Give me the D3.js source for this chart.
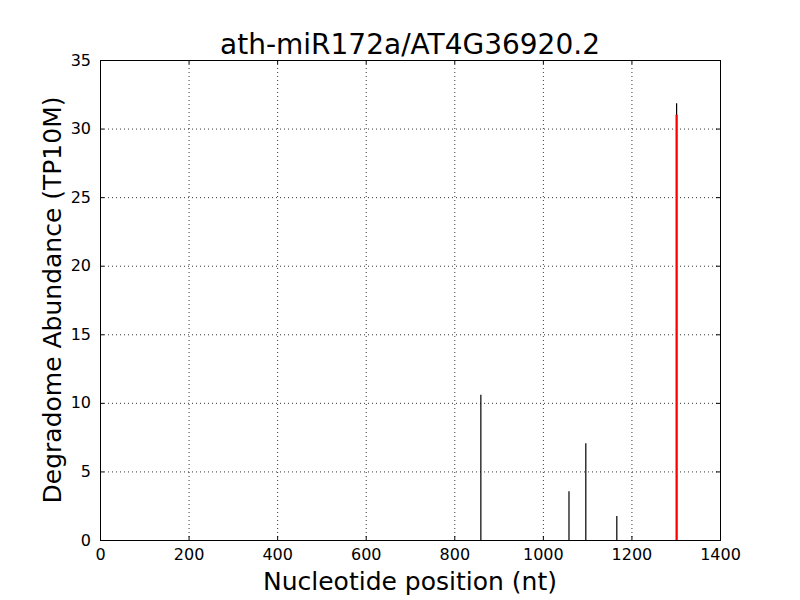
<!DOCTYPE html>
<html>
<head>
<meta charset="utf-8">
<script src="https://d3js.org/d3.v7.min.js"></script>
<style>
body{margin:0;background:#fff;}
text{font-family:"DejaVu Sans",sans-serif;}
</style>
</head>
<body>
<svg id="chart" width="800" height="600"></svg>
<script>
const positions = [860, 1059, 1097, 1167, 1302];
const abundances = [10.6, 3.55, 7.05, 1.75, 31.85];
const targetPosition = [1302];
const targetAbundance = [31.0];
const xTicks = [0, 200, 400, 600, 800, 1000, 1200, 1400];
const yTicks = [0, 5, 10, 15, 20, 25, 30, 35];
const title = "ath-miR172a/AT4G36920.2";
const xLabel = "Nucleotide position (nt)";
const yLabel = "Degradome Abundance (TP10M)";

const svg = d3.select("#chart");
const m = {left:100, top:60, right:80, bottom:60};
const W = 800 - m.left - m.right, H = 600 - m.top - m.bottom;
const g = svg.append("g").attr("transform", `translate(${m.left},${m.top})`);
const x = d3.scaleLinear().domain([0,1400]).range([0,W]);
const y = d3.scaleLinear().domain([0,35]).range([H,0]);

// grid
g.append("g").selectAll("line").data(xTicks.slice(1,-1)).join("line")
  .attr("x1", d=>x(d)+0.5).attr("x2", d=>x(d)+0.5).attr("y1",0).attr("y2",H)
  .attr("stroke","#000").attr("stroke-width",0.8).attr("stroke-dasharray","1,3");
g.append("g").selectAll("line").data(yTicks.slice(1,-1)).join("line")
  .attr("y1", d=>y(d)+0.5).attr("y2", d=>y(d)+0.5).attr("x1",0).attr("x2",W)
  .attr("stroke","#000").attr("stroke-width",0.8).attr("stroke-dasharray","1,3");

// bars
g.append("g").selectAll("line").data(positions.map((p,i)=>[p,abundances[i]])).join("line")
  .attr("x1", d=>x(d[0])).attr("x2", d=>x(d[0])).attr("y1", y(0)).attr("y2", d=>y(d[1]))
  .attr("stroke","#000").attr("stroke-width",1.2);
g.append("g").selectAll("line").data(targetPosition.map((p,i)=>[p,targetAbundance[i]])).join("line")
  .attr("x1", d=>x(d[0])).attr("x2", d=>x(d[0])).attr("y1", y(0)).attr("y2", d=>y(d[1]))
  .attr("stroke","#ff0000").attr("stroke-width",2.2);

// axes with inward ticks
const fs = 16;
const xb = g.append("g").attr("transform",`translate(0,${H})`)
  .call(d3.axisBottom(x).tickValues(xTicks).tickSize(-4).tickPadding(9).tickFormat(d3.format("d")));
const xt = g.append("g").call(d3.axisTop(x).tickValues(xTicks).tickSize(-4).tickFormat(""));
const yl = g.append("g").call(d3.axisLeft(y).tickValues(yTicks).tickSize(-4).tickPadding(9).tickFormat(d3.format("d")));
const yr = g.append("g").attr("transform",`translate(${W},0)`)
  .call(d3.axisRight(y).tickValues(yTicks).tickSize(-4).tickFormat(""));
[xb,xt,yl,yr].forEach(a=>{
  a.select(".domain").remove();
  a.selectAll("line").attr("stroke","#000");
  a.selectAll("text").attr("font-size",fs).attr("font-family","DejaVu Sans").attr("fill","#000");
});
g.append("rect").attr("x",0.5).attr("y",0.5).attr("width",W).attr("height",H)
  .attr("fill","none").attr("stroke","#000").attr("stroke-width",1);

svg.append("text").attr("x", m.left+W/2).attr("y", 54).attr("text-anchor","middle")
  .attr("font-size",28).text(title);
svg.append("text").attr("x", m.left+W/2).attr("y", 590).attr("text-anchor","middle")
  .attr("font-size",25).text(xLabel);
svg.append("text").attr("transform",`translate(61,${m.top+H/2}) rotate(-90)`).attr("text-anchor","middle")
  .attr("font-size",25).text(yLabel);
</script>
</body>
</html>
